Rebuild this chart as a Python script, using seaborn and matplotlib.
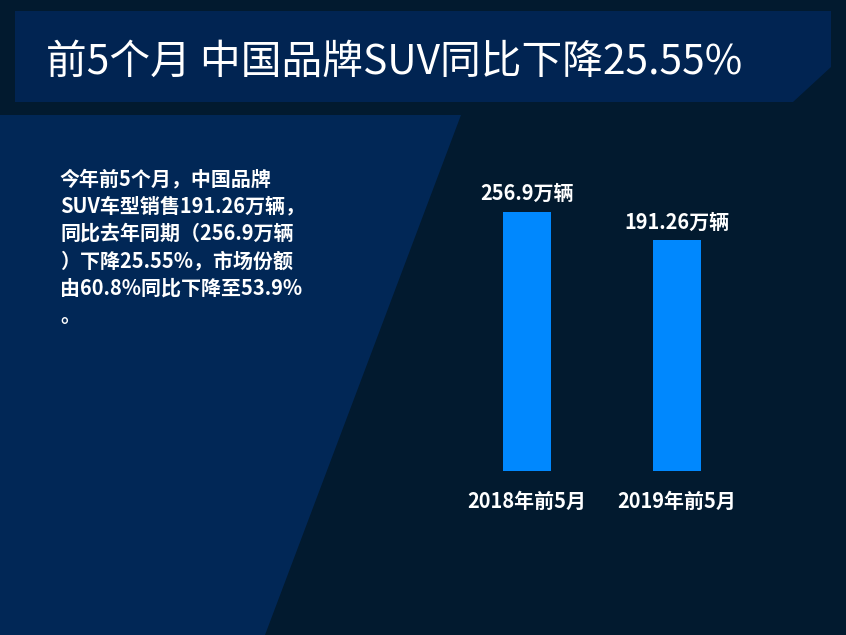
import numpy as np
import pandas as pd
import matplotlib
matplotlib.use("Agg")
import matplotlib.pyplot as plt
import seaborn as sns
from matplotlib.patches import Polygon

# ---- data ----
categories = ["2018年前5月", "2019年前5月"]
sales = [256.9, 191.26]
value_labels = ["256.9万辆", "191.26万辆"]
title = "前5个月 中国品牌SUV同比下降25.55%"
body_lines = [
    "今年前5个月，中国品牌",
    "SUV车型销售191.26万辆，",
    "同比去年同期（256.9万辆",
    "）下降25.55%，市场份额",
    "由60.8%同比下降至53.9%",
    "。",
]

# ---- style ----
BG = "#021a2f"
BANNER = "#012452"
PANEL = "#012756"
BAR = "#0088fe"
baseline = -344  # value-axis origin used by the original chart

sns.set_theme(style="dark")
plt.rcParams["font.family"] = ["Noto Sans CJK SC", "DejaVu Sans"]

W, H = 846, 635
fig = plt.figure(figsize=(W / 100, H / 100), dpi=100)
fig.patch.set_facecolor(BG)

# decoration layer in pixel coordinates
deco = fig.add_axes([0, 0, 1, 1])
deco.set_xlim(0, W)
deco.set_ylim(H, 0)
deco.axis("off")
deco.add_patch(Polygon([(15, 11), (831, 11), (831, 67), (793, 102), (15, 102)],
                       closed=True, fc=BANNER, ec="none"))
deco.add_patch(Polygon([(0, 115), (461, 115), (265, 635), (0, 635)],
                       closed=True, fc=PANEL, ec="none"))
deco.text(46, 62, title, color="white", fontsize=29.3, va="center", ha="left")
for i, line in enumerate(body_lines):
    deco.text(60, 178.7 + 27.4 * i, line, color="white", fontsize=14.4,
              fontweight="bold", va="center", ha="left")

# bar chart
ax = fig.add_axes([452 / W, (H - 470.7) / H, 300 / W, 320.7 / H])
ax.set_facecolor("none")
df = pd.DataFrame({"period": categories, "sales": sales})
df["bar_height"] = df["sales"] - baseline
sns.barplot(data=df, x="period", y="bar_height", bottom=baseline, color=BAR,
            saturation=1, width=0.32, errorbar=None, linewidth=0, ax=ax)
ax.set_xlim(-0.5, 1.5)
ax.set_ylim(baseline, baseline + 744)
for i, (v, lab) in enumerate(zip(sales, value_labels)):
    ax.annotate(lab, (i, v), xytext=(0, 13), textcoords="offset points",
                ha="center", va="center", color="white", fontsize=14.4,
                fontweight="bold")
ax.set_xlabel("")
ax.set_ylabel("")
ax.set_yticks([])
ax.tick_params(axis="x", length=0, pad=14.5, labelsize=14.4, labelcolor="white")
for t in ax.get_xticklabels():
    t.set_fontweight("bold")
ax.grid(False)
for s in ax.spines.values():
    s.set_visible(False)

fig.savefig("out.png", dpi=100, facecolor=BG)
